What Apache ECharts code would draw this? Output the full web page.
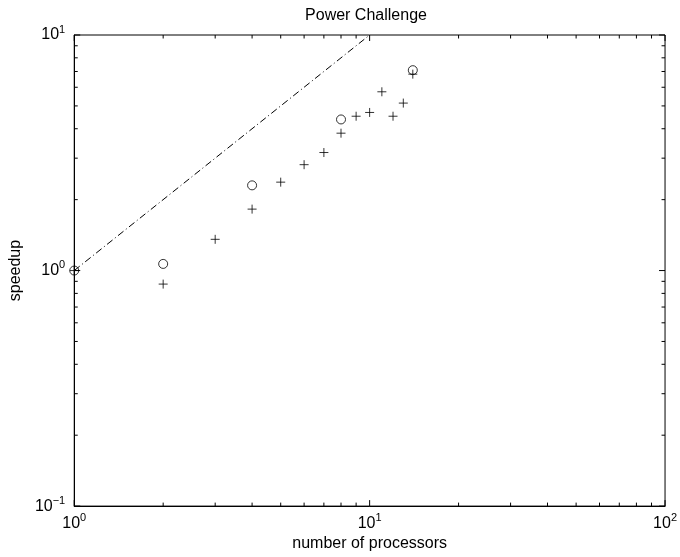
<!DOCTYPE html>
<html>
<head>
<meta charset="utf-8">
<script src="https://cdn.jsdelivr.net/npm/echarts@6/dist/echarts.min.js"></script>
<style>html,body{margin:0;padding:0;background:#fff}#c{width:680px;height:557px}</style>
</head>
<body>
<div id="c"></div>
<script>
// ---- data ----
const titleText = 'Power Challenge';
const xName = 'number of processors';
const yName = 'speedup';
const idealX = [1, 10];
const idealY = [1, 10];
const circleX = [1, 2, 4, 8, 14];
const circleY = [1.0, 1.067, 2.30, 4.38, 7.09];
const plusX = [1, 2, 3, 4, 5, 6, 7, 8, 9, 10, 11, 12, 13, 14];
const plusY = [1.0, 0.876, 1.357, 1.823, 2.373, 2.815, 3.17, 3.83, 4.52, 4.69, 5.74, 4.52, 5.14, 6.82];
const xMajor = [1, 10, 100];
const yMajor = [0.1, 1, 10];
const xMinor = [2, 3, 4, 5, 6, 7, 8, 9, 20, 30, 40, 50, 60, 70, 80, 90];
const yMinor = [0.2, 0.3, 0.4, 0.5, 0.6, 0.7, 0.8, 0.9, 2, 3, 4, 5, 6, 7, 8, 9];

const FONT = 'Liberation Sans, Arial, Helvetica, sans-serif';
const X_MIN = 1, X_MAX = 100, Y_MIN = 0.1, Y_MAX = 10;

function supLabel(v) {
  const e = Math.round(Math.log10(v));
  return '{b|10}{s|' + (e < 0 ? '\u2212' + (-e) : e) + '}';
}
const rich = {
  b: { fontSize: 16, fontFamily: FONT, color: '#000', lineHeight: 22, verticalAlign: 'middle' },
  s: { fontSize: 11, fontFamily: FONT, color: '#000', lineHeight: 22, verticalAlign: 'top' }
};

function tickSeries(values, isX, len) {
  return {
    type: 'custom',
    silent: true,
    z: 5,
    data: values.map(v => isX ? [v, 1] : [1, v]),
    encode: { x: 0, y: 1 },
    clip: false,
    renderItem: function (params, api) {
      const st = { stroke: '#000', lineWidth: 1 };
      const children = [];
      if (isX) {
        const v = api.value(0);
        const b = api.coord([v, Y_MIN]);
        const t = api.coord([v, Y_MAX]);
        children.push({ type: 'line', shape: { x1: b[0], y1: b[1], x2: b[0], y2: b[1] - len }, style: st });
        children.push({ type: 'line', shape: { x1: t[0], y1: t[1], x2: t[0], y2: t[1] + len }, style: st });
      } else {
        const v = api.value(1);
        const l = api.coord([X_MIN, v]);
        const r = api.coord([X_MAX, v]);
        children.push({ type: 'line', shape: { x1: l[0], y1: l[1], x2: l[0] + len, y2: l[1] }, style: st });
        children.push({ type: 'line', shape: { x1: r[0], y1: r[1], x2: r[0] - len, y2: r[1] }, style: st });
      }
      return { type: 'group', children: children };
    }
  };
}

const chart = echarts.init(document.getElementById('c'), null, { renderer: 'canvas' });
chart.setOption({
  animation: false,
  backgroundColor: '#fff',
  title: {
    text: titleText,
    left: 366,
    textAlign: 'center',
    top: 8,
    padding: 0,
    textStyle: { fontFamily: FONT, fontSize: 16, fontWeight: 'normal', color: '#000' }
  },
  grid: { left: 62, right: 11, top: 35, bottom: 44, show: true, borderColor: '#000', borderWidth: 1, backgroundColor: 'transparent' },
  xAxis: {
    type: 'log', logBase: 10, min: X_MIN, max: X_MAX,
    name: xName, nameLocation: 'middle', nameGap: 29,
    nameTextStyle: { fontFamily: FONT, fontSize: 16, color: '#000' },
    axisLine: { show: true, lineStyle: { color: '#000', width: 1 } },
    axisTick: { show: false },
    splitLine: { show: false },
    axisLabel: { margin: 6, formatter: supLabel, rich: rich, showMinLabel: true, showMaxLabel: true }
  },
  yAxis: {
    type: 'log', logBase: 10, min: Y_MIN, max: Y_MAX,
    name: yName, nameLocation: 'middle', nameGap: 44, nameRotate: 90,
    nameTextStyle: { fontFamily: FONT, fontSize: 16, color: '#000' },
    axisLine: { show: true, lineStyle: { color: '#000', width: 1 } },
    axisTick: { show: false },
    splitLine: { show: false },
    axisLabel: { margin: 9, formatter: supLabel, rich: rich, showMinLabel: true, showMaxLabel: true }
  },
  series: [
    {
      type: 'line',
      data: idealX.map((x, i) => [x, idealY[i]]),
      symbol: 'none',
      lineStyle: { color: '#000', width: 1, type: [7, 3, 1, 3] },
      z: 2
    },
    {
      type: 'scatter',
      data: circleX.map((x, i) => [x, circleY[i]]),
      symbol: 'circle',
      symbolSize: 9,
      itemStyle: { color: 'rgba(0,0,0,0)', borderColor: '#000', borderWidth: 1 },
      z: 3
    },
    {
      type: 'scatter',
      data: plusX.map((x, i) => [x, plusY[i]]),
      symbol: 'path://M0,5L10,5M5,0L5,10',
      symbolSize: 9,
      itemStyle: { color: 'rgba(0,0,0,0)', borderColor: '#000', borderWidth: 1 },
      z: 3
    },
    tickSeries(xMajor, true, 6),
    tickSeries(yMajor, false, 6),
    tickSeries(xMinor, true, 3.5),
    tickSeries(yMinor, false, 3.5)
  ]
});
</script>
</body>
</html>
